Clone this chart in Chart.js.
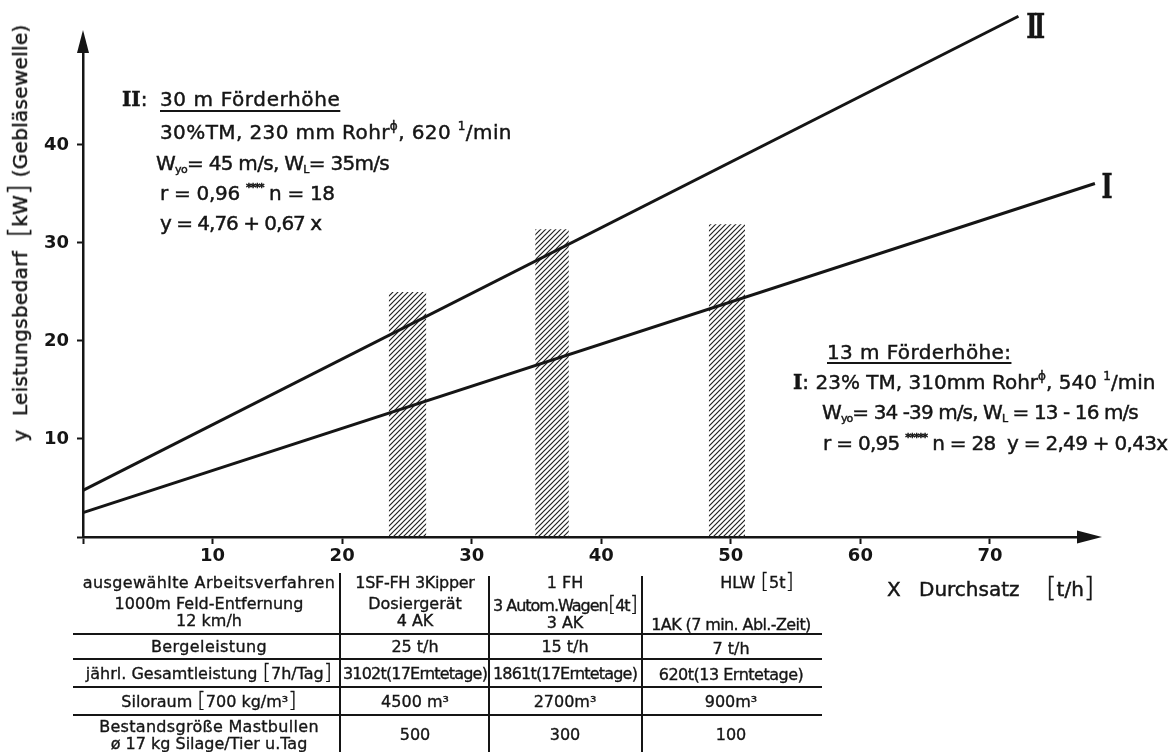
<!DOCTYPE html>
<html>
<head>
<meta charset="utf-8">
<script src="https://cdn.jsdelivr.net/npm/chart.js@4.4.1/dist/chart.umd.min.js"></script>
<style>
  html, body { margin: 0; padding: 0; background: #fff; }
  #wrap { position: relative; width: 1171px; height: 752px; overflow: hidden;
          font-family: "DejaVu Sans", sans-serif; color: #151515; }
  canvas { position: absolute; left: 0; top: 0; }
  .t { position: absolute; white-space: nowrap; line-height: 1.2; -webkit-text-stroke: 0.45px #151515; }
  .l { transform: translateY(-50%); }
  .c { transform: translate(-50%, -50%); }
  .n { font-size: 20px; }
  .tb { font-size: 16px; -webkit-text-stroke: 0.35px #151515; }
  .u { text-decoration: underline; text-decoration-thickness: 2px; text-underline-offset: 4px; }
  sup, sub { line-height: 0; }
  sup.s { font-size: 11px; vertical-align: 9px; letter-spacing: -1.5px; font-weight: bold; }
  sup.p { font-size: 12px; vertical-align: 9px; }
  sub { font-size: 11px; vertical-align: -3px; }
  .bk { font-size: 1.35em; line-height: 0; font-weight: 300; }
  .rn { font-family: "DejaVu Serif", serif; font-weight: bold; }
  .hl { position: absolute; height: 2px; background: #151515; }
  .vl { position: absolute; width: 2px; background: #151515; }
</style>
</head>
<body>
<div id="wrap">
  <canvas id="c" width="1171" height="752"></canvas>

  <!-- y axis title -->
  <div class="t n" style="left:20px;top:233px;transform:translate(-50%,-50%) rotate(-90deg);letter-spacing:0.3px;">y&nbsp;&nbsp;Leistungsbedarf&nbsp;&nbsp;<span class="bk">[</span>kW<span class="bk">]</span> (Gebläsewelle)</div>

  <!-- x axis title -->
  <div class="t n l" style="left:887px;top:589px;">X</div>
  <div class="t n l" style="left:919px;top:589px;">Durchsatz</div>
  <div class="t n l" style="left:1046px;top:589px;"><span class="bk">[</span>t/h<span class="bk">]</span></div>

  <!-- curve labels -->
  <div class="t rn c" style="left:1034px;top:26px;font-size:34px;letter-spacing:-5px;transform:translate(-50%,-50%) scaleX(0.7);">II</div>
  <div class="t rn c" style="left:1107px;top:186px;font-size:34px;transform:translate(-50%,-50%) scaleX(0.7);">I</div>

  <!-- regression II -->
  <div class="t n l" style="left:122px;top:99px;"><span class="rn">II</span>:</div>
  <div class="t n l u" style="left:160px;top:99px;letter-spacing:0.6px;">30 m Förderhöhe</div>
  <div class="t n l" style="left:160px;top:132px;letter-spacing:0.4px;">30%TM, 230 mm Rohr<sup class="p">ϕ</sup>, 620 <sup class="p">1</sup>/min</div>
  <div class="t n l" style="left:156px;top:163px;letter-spacing:-0.7px;">W<sub>yo</sub>= 45 m/s, W<sub>L</sub>= 35m/s</div>
  <div class="t n l" style="left:160px;top:193px;letter-spacing:-0.3px;">r = 0,96 <sup class="s">****</sup> n = 18</div>
  <div class="t n l" style="left:160px;top:223px;letter-spacing:-1px;">y = 4,76 + 0,67 x</div>

  <!-- regression I -->
  <div class="t n l u" style="left:827px;top:352px;text-underline-offset:3px;letter-spacing:0.4px;">13 m Förderhöhe:</div>
  <div class="t n l" style="left:793px;top:382px;"><span class="rn">I</span>: 23% TM, 310mm Rohr<sup class="p">ϕ</sup>, 540 <sup class="p">1</sup>/min</div>
  <div class="t n l" style="left:822px;top:412px;letter-spacing:-0.9px;">W<sub>yo</sub>= 34 -39 m/s, W<sub>L</sub> = 13 - 16 m/s</div>
  <div class="t n l" style="left:823px;top:443px;letter-spacing:-0.7px;">r = 0,95 <sup class="s">*****</sup> n = 28&nbsp;&nbsp;y = 2,49 + 0,43x</div>

  <!-- table rules -->
  <div class="hl" style="left:73px;width:749px;top:633px;"></div>
  <div class="hl" style="left:73px;width:749px;top:658px;"></div>
  <div class="hl" style="left:73px;width:749px;top:686px;"></div>
  <div class="hl" style="left:73px;width:749px;top:714px;"></div>
  <div class="vl" style="left:339px;top:573px;height:179px;"></div>
  <div class="vl" style="left:488px;top:576px;height:176px;"></div>
  <div class="vl" style="left:641px;top:576px;height:176px;"></div>

  <!-- table header -->
  <div class="t tb c" style="left:209px;top:583px;letter-spacing:0.4px;">ausgewählte Arbeitsverfahren</div>
  <div class="t tb c" style="left:209px;top:604px;">1000m Feld-Entfernung</div>
  <div class="t tb c" style="left:209px;top:621px;">12 km/h</div>
  <div class="t tb c" style="left:415px;top:583px;letter-spacing:-0.3px;">1SF-FH 3Kipper</div>
  <div class="t tb c" style="left:415px;top:604px;">Dosiergerät</div>
  <div class="t tb c" style="left:415px;top:621px;">4 AK</div>
  <div class="t tb c" style="left:565px;top:583px;">1 FH</div>
  <div class="t tb c" style="left:565px;top:606px;letter-spacing:-1px;">3 Autom.Wagen<span class="bk">[</span>4t<span class="bk">]</span></div>
  <div class="t tb c" style="left:565px;top:623px;">3 AK</div>
  <div class="t tb c" style="left:757px;top:583px;">HLW <span class="bk">[</span>5t<span class="bk">]</span></div>
  <div class="t tb c" style="left:731px;top:625px;letter-spacing:-0.6px;">1AK (7 min. Abl.-Zeit)</div>

  <!-- table body -->
  <div class="t tb c" style="left:209px;top:647px;letter-spacing:0.4px;">Bergeleistung</div>
  <div class="t tb c" style="left:415px;top:647px;">25 t/h</div>
  <div class="t tb c" style="left:565px;top:647px;">15 t/h</div>
  <div class="t tb c" style="left:731px;top:649px;">7 t/h</div>

  <div class="t tb c" style="left:209px;top:674px;">jährl. Gesamtleistung <span class="bk">[</span>7h/Tag<span class="bk">]</span></div>
  <div class="t tb c" style="left:415px;top:674px;letter-spacing:-0.8px;">3102t(17Erntetage)</div>
  <div class="t tb c" style="left:565px;top:674px;letter-spacing:-0.8px;">1861t(17Erntetage)</div>
  <div class="t tb c" style="left:731px;top:675px;letter-spacing:-0.5px;">620t(13 Erntetage)</div>

  <div class="t tb c" style="left:209px;top:702px;">Siloraum <span class="bk">[</span>700 kg/m³<span class="bk">]</span></div>
  <div class="t tb c" style="left:415px;top:702px;">4500 m³</div>
  <div class="t tb c" style="left:565px;top:702px;">2700m³</div>
  <div class="t tb c" style="left:731px;top:702px;">900m³</div>

  <div class="t tb c" style="left:209px;top:727px;letter-spacing:0.3px;">Bestandsgröße Mastbullen</div>
  <div class="t tb c" style="left:209px;top:744px;">ø 17 kg Silage/Tier u.Tag</div>
  <div class="t tb c" style="left:415px;top:735px;">500</div>
  <div class="t tb c" style="left:565px;top:735px;">300</div>
  <div class="t tb c" style="left:731px;top:735px;">100</div>
</div>

<script>
// Throughput (t/h) on x, power demand (kW) on y
const xTicks = [0, 10, 20, 30, 40, 50, 60, 70];
const yTicks = [0, 10, 20, 30, 40];

// Regression II: y = 4,76 + 0,67 x  (30 m lift height)
const lineIIx = [0, 72.2];
const lineIIy = [4.76, 53.13];
// Regression I: y = 2,49 + 0,43 x  (13 m lift height)
const lineIx = [0, 78.1];
const lineIy = [2.49, 36.07];

// Hatched throughput bands of the three harvesting methods
const bandFrom = [23.6, 34.9, 48.3];
const bandTo   = [26.5, 37.5, 51.1];
const bandTop  = [25.0, 31.4, 31.9];

const INK = '#151515';
const FONT = 'DejaVu Sans';

function hatchPattern() {
  const s = 5;
  const c = document.createElement('canvas');
  c.width = s; c.height = s;
  const g = c.getContext('2d');
  g.strokeStyle = '#222';
  g.lineWidth = 1.2;
  g.beginPath();
  g.moveTo(-1, s + 1); g.lineTo(s + 1, -1);
  g.moveTo(-1, 1); g.lineTo(1, -1);
  g.moveTo(s - 1, s + 1); g.lineTo(s + 1, s - 1);
  g.stroke();
  return g.createPattern(c, 'repeat');
}
const hatch = hatchPattern();

const pts = (xs, ys) => xs.map((x, i) => ({ x, y: ys[i] }));

const lineStyle = {
  borderColor: INK, borderWidth: 3, pointRadius: 0, fill: false,
  clip: false, order: 0, tension: 0
};

const datasets = [
  Object.assign({ label: 'II', data: pts(lineIIx, lineIIy) }, lineStyle),
  Object.assign({ label: 'I', data: pts(lineIx, lineIy) }, lineStyle)
];
bandFrom.forEach((from, i) => {
  datasets.push({
    label: 'band' + i,
    data: [{ x: from, y: bandTop[i] }, { x: bandTo[i], y: bandTop[i] }],
    fill: 'origin',
    backgroundColor: hatch,
    borderWidth: 0,
    borderColor: 'rgba(0,0,0,0)',
    pointRadius: 0,
    order: 1
  });
});

// Arrowheads at the ends of both axes
const axisArrows = {
  id: 'axisArrows',
  afterDraw(chart) {
    const { ctx, chartArea: a } = chart;
    const y0 = chart.scales.y.getPixelForValue(0);
    ctx.save();
    ctx.fillStyle = INK;
    ctx.beginPath();
    ctx.moveTo(a.left, a.top - 20);
    ctx.lineTo(a.left - 6, a.top + 3);
    ctx.lineTo(a.left + 6, a.top + 3);
    ctx.closePath();
    ctx.fill();
    ctx.beginPath();
    ctx.moveTo(a.right + 22, y0);
    ctx.lineTo(a.right - 3, y0 - 6.5);
    ctx.lineTo(a.right - 3, y0 + 6.5);
    ctx.closePath();
    ctx.fill();
    ctx.restore();
  }
};

new Chart(document.getElementById('c'), {
  type: 'line',
  data: { datasets },
  plugins: [axisArrows],
  options: {
    responsive: false,
    animation: false,
    devicePixelRatio: 1,
    layout: { padding: { top: 50, right: 91, bottom: 0, left: 0 } },
    plugins: { legend: { display: false }, tooltip: { enabled: false } },
    scales: {
      x: {
        type: 'linear', min: 0, max: 76.95,
        afterBuildTicks: s => { s.ticks = xTicks.map(v => ({ value: v })); },
        afterFit: s => { s.height = 215; },
        ticks: {
          callback: v => (v === 0 ? '' : String(v)),
          font: { family: FONT, size: 18, weight: 'bold' }, color: INK, padding: 2, maxRotation: 0
        },
        grid: { display: true, drawOnChartArea: false, drawTicks: true,
                tickLength: 7, tickColor: INK, tickWidth: 2 },
        border: { display: true, color: INK, width: 2.5 }
      },
      y: {
        type: 'linear', min: 0, max: 49.69,
        afterBuildTicks: s => { s.ticks = yTicks.map(v => ({ value: v })); },
        afterFit: s => { s.width = 83; },
        ticks: {
          callback: v => (v === 0 ? '' : String(v)),
          font: { family: FONT, size: 18, weight: 'bold' }, color: INK, padding: 8
        },
        grid: { display: true, drawOnChartArea: false, drawTicks: true,
                tickLength: 6, tickColor: INK, tickWidth: 2 },
        border: { display: true, color: INK, width: 2.5 }
      }
    }
  }
});
</script>
</body>
</html>
